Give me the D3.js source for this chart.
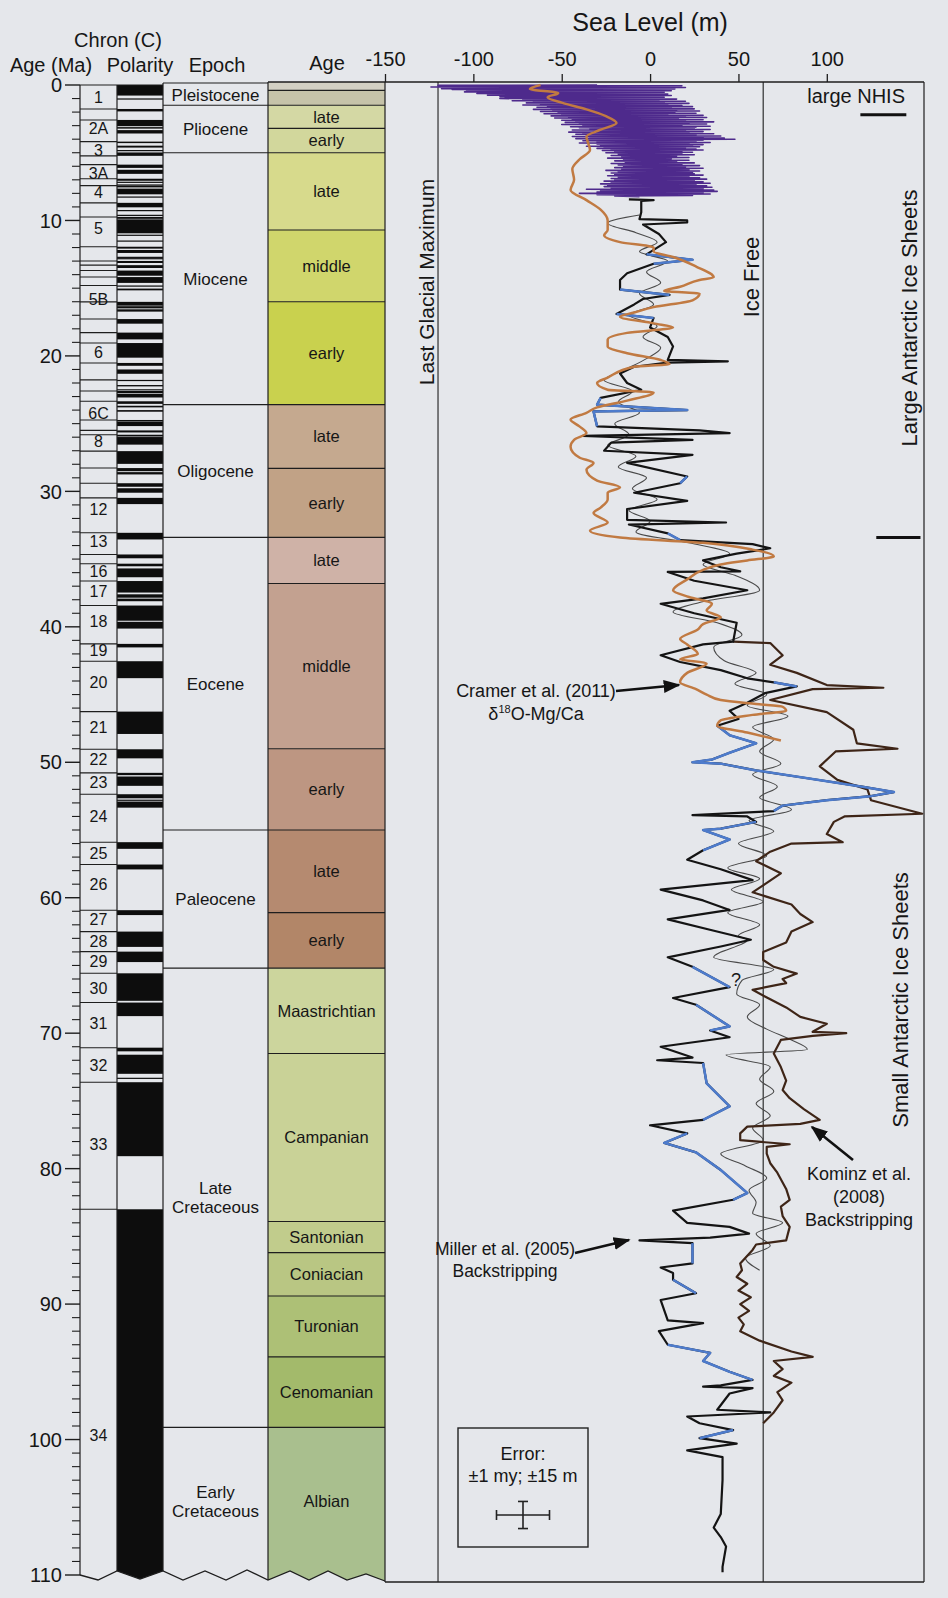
<!DOCTYPE html>
<html><head><meta charset="utf-8">
<script src="https://cdn.jsdelivr.net/npm/d3@7/dist/d3.min.js"></script>
<style>
html,body{margin:0;padding:0;background:#e5e7eb;}
svg{display:block;}
text{font-family:"Liberation Sans",Arial,Helvetica,sans-serif;fill:#161616;}
</style></head><body>
<svg id="chart" width="948" height="1598"></svg>
<script>
// ---------------- DATA ----------------
const ageTicks = [0,10,20,30,40,50,60,70,80,90,100,110];
const seaLevelTicks = [-150,-100,-50,0,50,100];

const chronTops = [0,1.77,2.58,4.18,5.23,5.88,6.92,7.43,8.70,9.74,11.94,12.99,13.30,13.70,14.18,14.80,16.01,17.28,18.28,19.05,20.52,21.77,22.59,23.35,24.73,25.50,25.82,27.03,28.28,29.40,30.48,33.06,34.66,35.34,36.62,38.43,41.26,42.54,46.26,49.04,50.78,52.36,55.90,57.55,60.92,62.50,63.98,65.58,67.74,71.07,73.62,83.00];
const chronLabels = ["1","2A","3","3A","4","5","5B","6","6C","8","12","13","16","17","18","19","20","21","22","23","24","25","26","27","28","29","30","31","32","33","34"];
const chronLabelAges = [0.9,3.2,4.8,6.5,7.9,10.6,15.8,19.7,24.2,26.3,31.3,33.7,35.9,37.4,39.6,41.7,44.1,47.4,49.8,51.5,54.0,56.7,59.0,61.6,63.2,64.7,66.7,69.3,72.4,78.2,99.7];

const normalPolarity = [[0,0.78],[0.99,1.07],[1.77,1.95],[2.58,3.04],[3.11,3.22],[3.33,3.58],[4.18,4.29],[4.48,4.62],[4.80,4.89],[4.98,5.23],[5.88,6.12],[6.26,6.56],[6.92,7.07],[7.14,7.17],[7.34,7.38],[7.43,7.56],[7.65,8.07],[8.23,8.26],[8.70,9.03],[9.23,9.31],[9.58,9.64],[9.74,9.88],[9.92,10.95],[11.05,11.10],[11.48,11.53],[11.94,12.08],[12.18,12.40],[12.68,12.71],[12.78,12.82],[12.99,13.14],[13.30,13.51],[13.70,14.08],[14.18,14.61],[14.80,14.89],[15.03,15.16],[16.01,16.29],[16.33,16.49],[16.56,16.73],[17.28,17.62],[18.28,18.78],[19.05,20.13],[20.52,20.73],[21.00,21.32],[21.77,21.86],[22.15,22.25],[22.46,22.49],[22.59,22.75],[22.80,23.07],[23.35,23.54],[23.68,23.80],[24.00,24.12],[24.73,24.78],[24.84,25.18],[25.50,25.65],[25.82,25.95],[25.99,26.55],[27.03,27.97],[28.28,28.51],[28.58,28.75],[29.40,29.66],[29.77,30.10],[30.48,30.94],[33.06,33.55],[34.66,34.94],[35.34,35.53],[35.69,36.34],[36.62,37.47],[37.60,37.85],[37.92,38.11],[38.43,39.55],[39.63,40.13],[41.26,41.52],[42.54,43.79],[46.26,47.91],[49.04,49.71],[50.78,50.95],[51.05,51.74],[52.36,52.66],[52.76,52.80],[52.90,53.35],[55.90,56.39],[57.55,57.91],[60.92,61.28],[62.50,63.63],[63.98,64.75],[65.58,67.61],[67.74,68.74],[71.07,71.34],[71.59,73.00],[73.29,73.37],[73.62,79.08],[83.00,110]];

const epochBounds = [0,1.5,5.0,23.6,33.4,55.0,65.2,99.1,110];
const epochNames = ["Pleistocene","Pliocene","Miocene","Oligocene","Eocene","Paleocene","Late\nCretaceous","Early\nCretaceous"];

const stageBounds = [0,0.4,1.5,3.2,5.0,10.7,16.0,23.6,28.3,33.4,36.8,49.0,55.0,61.1,65.2,71.5,83.9,86.2,89.4,93.9,99.1,110];
const stageNames = ["","","late","early","late","middle","early","late","early","late","middle","early","late","early","Maastrichtian","Campanian","Santonian","Coniacian","Turonian","Cenomanian","Albian"];
const stageColors = ["#d3d0c3","#c6c3a9","#d4d8a4","#d2d79c","#d7da8c","#d0d66c","#c9d14e","#c5a98f","#c1a286","#cfb2a7","#c3a190","#bd9682","#b58a70","#b28668","#ccd59d","#c9d297","#c1cc8c","#b9c683","#adc076","#a3ba6b","#a9bf8e"];

// Purple high-resolution record (0-8.3 Ma)
const purpleSL = [[0.00,-30],[0.03,-120],[0.06,18],[0.09,-115],[0.12,10],[0.15,-124],[0.18,20],[0.21,-108],[0.24,5],[0.27,-118],[0.30,14],[0.33,-112],[0.36,2],[0.39,-104],[0.42,12],[0.45,-100],[0.48,-2],[0.51,-105],[0.54,8],[0.57,-95],[0.60,0],[0.63,-98],[0.66,10],[0.69,-88],[0.72,-5],[0.75,-92],[0.78,12],[0.81,-80],[0.84,2],[0.87,-85],[0.90,8],[0.93,-82],[0.96,0],[1.00,-85],[1.04,15],[1.08,-72],[1.12,5],[1.16,-78],[1.20,20],[1.24,-66],[1.28,8],[1.32,-70],[1.36,22],[1.40,-62],[1.44,10],[1.48,-72],[1.52,18],[1.56,-58],[1.60,24],[1.64,-64],[1.68,12],[1.72,-56],[1.76,25],[1.80,-66],[1.84,15],[1.88,-55],[1.92,28],[1.96,-62],[2.00,14],[2.04,-52],[2.08,26],[2.12,-60],[2.16,10],[2.20,-50],[2.24,30],[2.28,-56],[2.32,20],[2.36,-46],[2.40,32],[2.44,-54],[2.48,16],[2.52,-44],[2.56,30],[2.60,-50],[2.64,20],[2.68,-42],[2.72,36],[2.76,-48],[2.80,22],[2.84,-40],[2.88,32],[2.92,-50],[2.96,18],[3.00,-38],[3.04,34],[3.08,-45],[3.12,26],[3.16,-40],[3.20,25],[3.24,-34],[3.28,34],[3.32,-44],[3.36,20],[3.40,-32],[3.44,30],[3.48,-46],[3.52,22],[3.56,-38],[3.60,36],[3.64,-42],[3.68,26],[3.72,-36],[3.76,40],[3.80,-44],[3.84,30],[3.88,-34],[3.92,42],[3.96,-42],[4.00,48],[4.04,-36],[4.08,30],[4.12,-38],[4.16,26],[4.20,-30],[4.24,34],[4.28,-40],[4.32,22],[4.36,-30],[4.40,30],[4.44,-28],[4.48,24],[4.52,-36],[4.56,28],[4.60,-26],[4.64,20],[4.68,-30],[4.72,26],[4.76,-22],[4.80,30],[4.84,-27],[4.88,18],[4.92,-20],[4.96,24],[5.00,-25],[5.05,18],[5.10,-18],[5.15,25],[5.20,-22],[5.25,15],[5.30,-16],[5.35,22],[5.40,-24],[5.45,12],[5.50,-15],[5.55,22],[5.60,-20],[5.65,15],[5.70,-14],[5.75,25],[5.80,-22],[5.85,18],[5.90,-18],[5.95,28],[6.00,-15],[6.05,20],[6.10,-20],[6.15,30],[6.20,-16],[6.25,22],[6.30,-25],[6.35,28],[6.40,-18],[6.45,24],[6.50,-22],[6.55,25],[6.60,-20],[6.65,30],[6.70,-24],[6.75,22],[6.80,-18],[6.85,28],[6.90,-22],[6.95,32],[7.00,-20],[7.05,25],[7.10,-26],[7.15,30],[7.20,-22],[7.25,34],[7.30,-28],[7.35,26],[7.40,-24],[7.45,32],[7.50,-26],[7.55,35],[7.60,-22],[7.65,30],[7.70,-36],[7.75,36],[7.80,-28],[7.85,38],[7.90,-30],[7.95,30],[8.00,-40],[8.05,34],[8.10,-30],[8.15,24],[8.20,-20],[8.25,-6]];

// Cramer et al. (2011) d18O-Mg/Ca
const cramerSL = [[0.0,-62],[0.3,-68],[0.6,-52],[0.9,-58],[1.3,-50],[1.8,-36],[2.3,-25],[2.8,-19],[3.3,-28],[3.8,-36],[4.3,-35],[4.8,-34],[5.5,-40],[6.2,-44],[7.0,-43],[7.75,-45],[8.5,-36],[9.2,-28],[10.0,-24],[10.7,-24],[11.1,-26],[11.6,-17],[12.0,2],[12.3,2],[12.7,13],[13.4,26],[14.2,36],[14.4,28],[14.9,17],[15.2,8],[15.4,28],[15.9,24],[16.4,2],[16.8,-9],[17.1,-17],[17.6,2],[17.9,13],[18.3,-13],[18.8,-24],[19.3,-24],[19.8,-13],[20.3,6],[20.6,11],[20.8,-9],[21.6,-24],[22.0,-30],[22.5,-24],[22.7,2],[23.3,-13],[23.8,-30],[24.2,-36],[24.7,-45],[25.2,-40],[25.7,-36],[26.2,-43],[26.7,-45],[27.5,-40],[27.9,-32],[28.4,-36],[29.2,-30],[29.7,-17],[30.1,-24],[30.6,-24],[31.2,-28],[31.6,-32],[32.3,-24],[32.9,-34],[33.4,-17],[33.8,30],[34.3,58],[34.8,70],[35.1,55],[35.4,40],[35.8,30],[36.5,21],[37.3,13],[37.8,22],[38.3,35],[38.8,32],[39.3,40],[39.8,30],[40.2,27],[40.9,17],[41.3,21],[42.0,27],[42.4,17],[42.7,32],[43.4,21],[44.1,17],[44.6,26],[45.0,32],[45.4,40],[45.7,60],[45.9,75],[46.2,77],[46.5,58],[46.9,40],[47.3,38],[47.8,55],[48.4,74]];

// Miller et al. (2005) backstripping
const millerSL = [[8.45,-12],[8.5,2],[8.55,-5],[9.4,-5],[9.9,-6],[10.0,21],[10.15,21],[10.3,-4],[11.0,5],[11.6,9],[12.5,-2],[12.9,24],[13.2,2],[13.9,-13],[14.4,-17],[15.1,-17],[15.5,11],[15.8,-4],[16.2,-9],[16.9,-19],[17.2,2],[17.9,0],[18.6,10],[19.3,13],[20.3,10],[20.4,44],[20.5,10],[20.8,-9],[21.3,-17],[22.0,-13],[22.5,-5],[23.1,-28],[23.6,-30],[24.0,21],[24.1,-32],[25.2,-30],[25.5,28],[25.7,45],[25.9,-38],[26.2,24],[26.4,-22],[27.0,-26],[27.3,24],[27.9,-13],[28.9,21],[29.4,17],[30.1,-9],[30.7,21],[31.3,-13],[32.1,-13],[32.3,43],[32.45,-12],[33.1,10],[33.6,17],[33.9,58],[34.2,68],[34.6,49],[35.1,30],[35.6,40],[35.9,51],[35.95,10],[36.6,25],[37.3,55],[37.9,30],[38.3,6],[39.0,25],[39.7,49],[41.1,47],[41.3,30],[42.1,6],[42.6,17],[43.2,40],[43.8,55],[44.1,70],[44.4,83],[44.9,65],[45.6,55],[46.2,45],[46.8,50],[47.3,38],[48.0,45],[48.6,60],[49.3,45],[49.8,35],[50.0,24],[50.1,40],[50.6,60],[51.2,90],[51.8,120],[52.2,138],[52.5,125],[52.8,100],[53.2,75],[53.6,70],[53.9,24],[54.0,55],[54.4,60],[54.9,40],[55.0,30],[55.7,45],[56.5,30],[57.2,21],[57.9,40],[58.7,58],[59.4,6],[60.2,30],[60.9,45],[61.6,10],[62.4,35],[63.1,57],[63.6,40],[64.4,10],[65.1,24],[66.6,45],[67.4,13],[67.9,26],[69.5,45],[69.8,34],[70.3,45],[71.0,6],[71.8,24],[72.0,4],[72.2,30],[73.7,32],[75.4,45],[76.4,30],[76.8,0],[77.4,21],[78.1,8],[78.8,26],[80.1,40],[81.8,55],[82.3,47],[83.1,13],[84.0,21],[84.3,45],[84.8,56],[85.1,34],[85.3,-6],[85.5,24],[87.0,24],[87.3,6],[87.7,13],[88.2,13],[89.2,26],[89.7,6],[91.2,10],[91.4,30],[92.0,5],[93.0,10],[93.6,34],[94.2,30],[95.0,45],[95.6,58],[96.0,40],[96.1,30],[96.2,58],[96.6,45],[97.8,38],[98.0,68],[98.3,21],[98.8,28],[99.3,47],[99.9,28],[100.3,49],[100.8,21],[101.3,41],[103.0,41],[105.5,40],[106.5,36],[107.2,40],[107.9,43],[109.4,41],[109.8,41]];
// age ranges of the Miller curve drawn in blue
const millerBlueRanges = [[12.4,13.3],[14.9,15.6],[16.8,17.3],[22.9,25.3],[28.7,29.5],[32.9,33.7],[43.9,44.5],[47.0,53.7],[54.3,57.0],[65.0,67.0],[67.8,70.0],[72.1,76.5],[77.3,82.4],[85.4,87.1],[88.1,89.3],[92.5,95.7],[99.2,100.0]];

// thin grey curve
const thinSL = [[9.6,-6],[10.2,-24],[10.9,-8],[11.6,4],[12.3,-6],[13.0,10],[13.8,-2],[14.6,6],[15.4,-6],[16.2,2],[17.0,-12],[17.8,4],[18.6,-4],[19.4,6],[20.2,-2],[21.0,-14],[21.8,-26],[22.6,-10],[23.4,-18],[24.2,-6],[25.0,-20],[25.8,-12],[26.6,-24],[27.4,-8],[28.2,-18],[29.0,-2],[29.8,-10],[30.6,4],[31.4,-12],[32.2,0],[33.0,-8],[33.8,22],[34.6,45],[35.4,30],[36.2,48],[37.3,62],[38.2,28],[38.9,13],[39.7,38],[40.6,52],[41.5,36],[42.5,42],[43.4,60],[44.2,48],[45.0,66],[45.8,55],[46.6,78],[47.4,58],[48.3,70],[49.2,62],[50.1,74],[50.9,58],[51.8,72],[52.6,62],[53.5,80],[54.3,56],[55.1,70],[56.0,50],[56.9,66],[57.8,44],[58.6,62],[59.4,46],[60.3,64],[61.1,44],[62.0,62],[62.8,50],[63.1,55],[64.4,36],[65.3,70],[66.1,52],[67.1,49],[67.9,62],[68.8,55],[69.7,66],[70.5,80],[71.2,89],[71.6,43],[72.5,68],[73.4,62],[74.3,70],[75.2,60],[76.1,68],[77.0,58],[77.9,64],[78.9,40],[79.8,54],[80.7,66],[81.6,56],[82.5,60],[83.3,58],[84.0,75],[84.8,60],[85.7,68],[86.6,54],[87.5,62]];

// Kominz et al. (2008) backstripping
const kominzSL = [[41.1,47],[41.2,68],[42.1,75],[42.8,68],[43.4,83],[44.3,100],[44.5,132],[44.6,92],[45.4,68],[46.3,100],[47.6,115],[48.6,117],[49.0,140],[49.2,105],[50.3,96],[51.3,106],[52.0,123],[52.8,125],[53.8,154],[54.0,110],[54.4,104],[55.3,100],[55.9,109],[56.0,80],[56.6,68],[57.3,60],[58.2,74],[59.0,65],[59.6,58],[60.5,80],[61.2,85],[61.8,92],[62.5,80],[63.3,77],[64.0,64],[64.6,64],[65.1,70],[65.6,83],[66.0,75],[66.3,77],[66.8,58],[67.5,68],[68.1,77],[68.8,85],[69.3,100],[69.9,92],[70.0,111],[70.2,92],[70.5,74],[71.5,70],[72.5,74],[73.5,77],[74.2,75],[74.8,79],[75.6,87],[76.4,96],[76.7,85],[76.9,55],[77.4,51],[77.9,51],[78.2,79],[78.4,66],[78.9,66],[79.6,68],[80.3,72],[81.5,77],[82.3,79],[82.8,74],[83.5,75],[84.3,79],[85.3,77],[85.6,60],[86.0,58],[87.0,51],[87.5,52],[88.0,49],[88.5,55],[89.0,50],[89.5,57],[90.0,51],[90.5,56],[91.0,50],[91.5,53],[92.0,51],[92.7,62],[93.5,80],[93.9,92],[94.2,70],[94.8,75],[95.3,70],[95.8,80],[96.5,72],[97.1,75],[98.0,70],[98.8,64]];

// ---------------- DRAW ----------------
const W = 948, H = 1598;
const BG = "#e5e7eb", INK = "#1e1e1e";
const svg = d3.select("#chart");
svg.append("rect").attr("width", W).attr("height", H).attr("fill", BG);

const y = d3.scaleLinear().domain([0, 110]).range([85, 1575]);
const x = d3.scaleLinear().domain([-150, 155]).range([385, 924]);
const cx0 = 80, cx1 = 117, px1 = 163, ex1 = 268, sx1 = 385;
const panelTop = y(0) - 3, panelBottom = y(110) + 7, panelRight = x(155);

const defs = svg.append("defs");
defs.append("marker").attr("id", "ah").attr("viewBox", "0 0 10 10")
  .attr("refX", 9).attr("refY", 5).attr("markerWidth", 17).attr("markerHeight", 17)
  .attr("markerUnits", "userSpaceOnUse").attr("orient", "auto")
  .append("path").attr("d", "M0,1.2 L10,5 L0,8.8 Z").attr("fill", "#111");

// stage column
const gS = svg.append("g");
stageNames.forEach((n, i) => {
  const t = i === 0 ? panelTop : y(stageBounds[i]);
  const b = y(stageBounds[i + 1]) + (i === stageNames.length - 1 ? 8 : 0);
  gS.append("rect").attr("x", ex1).attr("y", t).attr("width", sx1 - ex1).attr("height", b - t)
    .attr("fill", stageColors[i]);
  if (i > 0) gS.append("line").attr("x1", ex1).attr("x2", sx1).attr("y1", t).attr("y2", t)
    .attr("stroke", INK).attr("stroke-width", 1.1);
  if (n) gS.append("text").attr("x", (ex1 + sx1) / 2).attr("y", (y(stageBounds[i]) + y(stageBounds[i + 1])) / 2)
    .attr("dy", "0.36em").attr("text-anchor", "middle").attr("font-size", 16.5).text(n);
});

// epoch column
const gE = svg.append("g");
epochNames.forEach((n, i) => {
  const t = y(epochBounds[i]), b = y(epochBounds[i + 1]);
  if (i > 0) gE.append("line").attr("x1", px1).attr("x2", ex1).attr("y1", t).attr("y2", t)
    .attr("stroke", INK).attr("stroke-width", 1.1);
  const lines = n.split("\n");
  const mid = (t + b) / 2;
  const tx = gE.append("text").attr("x", (px1 + ex1) / 2).attr("text-anchor", "middle").attr("font-size", 17);
  lines.forEach((ln, k) => {
    tx.append("tspan").attr("x", (px1 + ex1) / 2)
      .attr("y", mid + (k - (lines.length - 1) / 2) * 19).attr("dy", "0.36em").text(ln);
  });
});
gE.append("line").attr("x1", px1).attr("x2", ex1).attr("y1", y(0) - 2).attr("y2", y(0) - 2).attr("stroke", INK).attr("stroke-width", 1.1);

// polarity column
const gP = svg.append("g");
normalPolarity.forEach(d => {
  gP.append("rect").attr("x", cx1).attr("width", px1 - cx1)
    .attr("y", y(d[0])).attr("height", Math.max(1.2, y(d[1]) - y(d[0]) + (d[1] === 110 ? 8 : 0)))
    .attr("fill", "#0d0d0d");
});

// chron column boxes
const gC = svg.append("g");
chronTops.forEach((a, i) => {
  if (i === 0) return;
  gC.append("line").attr("x1", cx0).attr("x2", cx1).attr("y1", y(a)).attr("y2", y(a))
    .attr("stroke", INK).attr("stroke-width", 1.1);
});
chronLabels.forEach((l, i) => {
  gC.append("text").attr("x", (cx0 + cx1) / 2).attr("y", y(chronLabelAges[i])).attr("dy", "0.36em")
    .attr("text-anchor", "middle").attr("font-size", 16).text(l);
});
gC.append("line").attr("x1", cx0).attr("x2", px1).attr("y1", y(0)).attr("y2", y(0)).attr("stroke", INK).attr("stroke-width", 1.2);

// bottom zigzag (masks columns below it)
const zz = [[cx0,0],[98,5],[cx1,-4],[140,4],[px1,-4],[183,5],[205,-4],[226,5],[247,-5],[ex1,5],[290,-4],[309,5],[328,-4],[347,5],[366,-1],[sx1,6]];
const zzPts = zz.map(p => [p[0], y(110) + p[1]]);
svg.append("path").attr("d", d3.line()(zzPts.concat([[sx1, H], [cx0 - 20, H], [cx0 - 20, y(110)]])))
  .attr("fill", BG);
svg.append("path").attr("d", d3.line()(zzPts)).attr("fill", "none").attr("stroke", INK).attr("stroke-width", 1.3);

// vertical column lines
[[cx0, y(0), y(110)], [cx1, y(0), y(110) - 4], [px1, y(0) - 2, y(110) - 4], [ex1, panelTop, y(110) + 5]].forEach(v => {
  svg.append("line").attr("x1", v[0]).attr("x2", v[0]).attr("y1", v[1]).attr("y2", v[2])
    .attr("stroke", INK).attr("stroke-width", 1.2);
});

// left age axis
const gA = svg.append("g");
d3.range(0, 111, 1).forEach(a => {
  const major = a % 10 === 0;
  gA.append("line").attr("x1", major ? cx0 - 15 : cx0 - 8).attr("x2", cx0).attr("y1", y(a)).attr("y2", y(a))
    .attr("stroke", INK).attr("stroke-width", major ? 1.4 : 1.1);
});
ageTicks.forEach(a => {
  gA.append("text").attr("x", cx0 - 18).attr("y", y(a)).attr("dy", "0.36em").attr("text-anchor", "end")
    .attr("font-size", 20).text(a);
});

// sea-level panel frame
const gF = svg.append("g");
gF.append("line").attr("x1", ex1).attr("x2", panelRight).attr("y1", panelTop).attr("y2", panelTop).attr("stroke", INK).attr("stroke-width", 1.4);
gF.append("line").attr("x1", sx1).attr("x2", panelRight).attr("y1", panelBottom).attr("y2", panelBottom).attr("stroke", INK).attr("stroke-width", 1.4);
gF.append("line").attr("x1", sx1).attr("x2", sx1).attr("y1", panelTop).attr("y2", panelBottom).attr("stroke", INK).attr("stroke-width", 1.2);
gF.append("line").attr("x1", panelRight).attr("x2", panelRight).attr("y1", panelTop).attr("y2", panelBottom).attr("stroke", INK).attr("stroke-width", 1.2);
gF.append("line").attr("x1", x(-120)).attr("x2", x(-120)).attr("y1", panelTop).attr("y2", panelBottom).attr("stroke", INK).attr("stroke-width", 1.1);
gF.append("line").attr("x1", x(64)).attr("x2", x(64)).attr("y1", panelTop).attr("y2", panelBottom).attr("stroke", INK).attr("stroke-width", 1.1);

// top sea-level axis
const axT = d3.axisTop(x).tickValues(seaLevelTicks).tickSize(8).tickPadding(8).tickFormat(d => String(d));
const gT = svg.append("g").attr("transform", `translate(0,${panelTop})`).call(axT);
gT.select(".domain").remove();
gT.selectAll("line").attr("stroke", INK).attr("stroke-width", 1.3);
gT.selectAll("text").attr("font-size", 20).style("font-family", '"Liberation Sans",Arial,sans-serif')
  .attr("fill", d => d === -150 ? "#5a7db4" : "#161616");

// series
const line = d3.line().x(d => x(d[1])).y(d => y(d[0]));
const smooth = d3.line().x(d => x(d[1])).y(d => y(d[0])).curve(d3.curveMonotoneY);
const gL = svg.append("g").attr("fill", "none").attr("stroke-linejoin", "round");
gL.append("path").attr("d", smooth(thinSL)).attr("stroke", "#4a4a4a").attr("stroke-width", 1.1);
gL.append("path").attr("d", line(kominzSL)).attr("stroke", "#3e2517").attr("stroke-width", 2.2);
gL.append("path").attr("d", line(millerSL)).attr("stroke", "#141414").attr("stroke-width", 2.2);
millerBlueRanges.forEach(r => {
  const seg = millerSL.filter(d => d[0] >= r[0] && d[0] <= r[1]);
  if (seg.length > 1) gL.append("path").attr("d", line(seg)).attr("stroke", "#4d7bcc").attr("stroke-width", 2.5);
});
gL.append("path").attr("d", line(purpleSL)).attr("stroke", "#4e2a8c").attr("stroke-width", 1.6);
gL.append("path").attr("d", smooth(cramerSL)).attr("stroke", "#c17a42").attr("stroke-width", 2.5);

// headers
const hdr = svg.append("g").attr("font-size", 20);
hdr.append("text").attr("x", 118).attr("y", 47).attr("text-anchor", "middle").text("Chron (C)");
hdr.append("text").attr("x", 51).attr("y", 72).attr("text-anchor", "middle").text("Age (Ma)");
hdr.append("text").attr("x", 140).attr("y", 72).attr("text-anchor", "middle").text("Polarity");
hdr.append("text").attr("x", 217).attr("y", 72).attr("text-anchor", "middle").text("Epoch");
hdr.append("text").attr("x", 327).attr("y", 70).attr("text-anchor", "middle").text("Age");
svg.append("text").attr("x", x(0)).attr("y", 31).attr("text-anchor", "middle").attr("font-size", 25).text("Sea Level (m)");

// rotated labels
function vtext(t, xx, yy, fs) {
  svg.append("text").attr("transform", `translate(${xx},${yy}) rotate(-90)`).attr("text-anchor", "middle")
    .attr("font-size", fs).text(t);
}
vtext("Last Glacial Maximum", x(-120) - 4, 282, 21);
vtext("Ice Free", x(64) - 4, 277, 22);
vtext("Large Antarctic Ice Sheets", panelRight - 7, 318, 22);
vtext("Small Antarctic Ice Sheets", panelRight - 16, 1000, 22);

// NHIS / AIS markers
svg.append("text").attr("x", 905).attr("y", 103).attr("text-anchor", "end").attr("font-size", 20).text("large NHIS");
svg.append("line").attr("x1", x(119)).attr("x2", x(145)).attr("y1", y(2.2)).attr("y2", y(2.2)).attr("stroke", "#111").attr("stroke-width", 3);
svg.append("line").attr("x1", x(128)).attr("x2", x(153)).attr("y1", y(33.4)).attr("y2", y(33.4)).attr("stroke", "#111").attr("stroke-width", 3);

// annotations
const ann = svg.append("g").attr("font-size", 18);
function arrow(x1, y1, x2, y2) {
  svg.append("line").attr("x1", x1).attr("y1", y1).attr("x2", x2).attr("y2", y2)
    .attr("stroke", "#111").attr("stroke-width", 2.6).attr("marker-end", "url(#ah)");
}
ann.append("text").attr("x", 536).attr("y", 697).attr("text-anchor", "middle").text("Cramer et al. (2011)");
const dT = ann.append("text").attr("x", 536).attr("y", 720).attr("text-anchor", "middle");
dT.append("tspan").text("δ");
dT.append("tspan").attr("font-size", 11).attr("dy", -7).text("18");
dT.append("tspan").attr("dy", 7).text("O-Mg/Ca");
arrow(616, 691, 679, 685);

ann.append("text").attr("x", 859).attr("y", 1180).attr("text-anchor", "middle").text("Kominz et al.");
ann.append("text").attr("x", 859).attr("y", 1203).attr("text-anchor", "middle").text("(2008)");
ann.append("text").attr("x", 859).attr("y", 1226).attr("text-anchor", "middle").text("Backstripping");
arrow(853, 1160, 812, 1127);

ann.append("text").attr("x", 505).attr("y", 1255).attr("text-anchor", "middle").attr("font-size", 17.5).text("Miller et al. (2005)");
ann.append("text").attr("x", 505).attr("y", 1277).attr("text-anchor", "middle").attr("font-size", 17.5).text("Backstripping");
arrow(575, 1253, 629, 1240);

ann.append("text").attr("x", 736).attr("y", 986).attr("text-anchor", "middle").text("?");

// error legend
const gErr = svg.append("g");
gErr.append("rect").attr("x", 458).attr("y", 1428).attr("width", 130).attr("height", 119)
  .attr("fill", "none").attr("stroke", "#222").attr("stroke-width", 1.4);
gErr.append("text").attr("x", 523).attr("y", 1460).attr("text-anchor", "middle").attr("font-size", 18).text("Error:");
gErr.append("text").attr("x", 523).attr("y", 1482).attr("text-anchor", "middle").attr("font-size", 18).text("±1 my; ±15 m");
const ecx = 523, ecy = 1515, hw = x(15) - x(0), hh = y(1) - y(0);
gErr.append("line").attr("x1", ecx - hw).attr("x2", ecx + hw).attr("y1", ecy).attr("y2", ecy).attr("stroke", "#222").attr("stroke-width", 1.6);
gErr.append("line").attr("x1", ecx).attr("x2", ecx).attr("y1", ecy - hh).attr("y2", ecy + hh).attr("stroke", "#222").attr("stroke-width", 1.6);
[[ecx - hw, ecy - 5, ecx - hw, ecy + 5], [ecx + hw, ecy - 5, ecx + hw, ecy + 5], [ecx - 5, ecy - hh, ecx + 5, ecy - hh], [ecx - 5, ecy + hh, ecx + 5, ecy + hh]].forEach(s => {
  gErr.append("line").attr("x1", s[0]).attr("y1", s[1]).attr("x2", s[2]).attr("y2", s[3]).attr("stroke", "#222").attr("stroke-width", 1.6);
});
</script>
</body></html>
